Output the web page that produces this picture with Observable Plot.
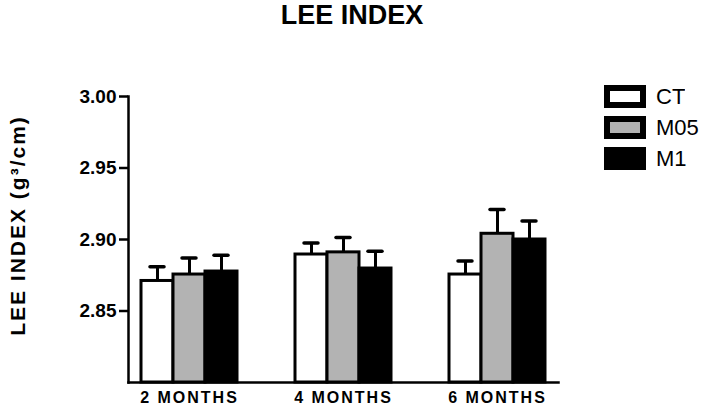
<!DOCTYPE html>
<html><head><meta charset="utf-8">
<script src="https://cdn.jsdelivr.net/npm/d3@7"></script>
<script src="https://cdn.jsdelivr.net/npm/@observablehq/plot@0.6"></script>
<style>
body{margin:0;background:#fff;font-family:"Liberation Sans",Arial,sans-serif;}
#wrap{position:relative;width:704px;height:419px;background:#fff;}
#title{position:absolute;left:0;top:0px;width:704px;text-align:center;font:bold 27px "Liberation Sans",Arial,sans-serif;color:#000;}
#chart{position:absolute;left:0;top:0;}
#legend{position:absolute;left:607px;top:81px;}
#legend .lg-swatch{height:31px !important;display:flex !important;align-items:center !important;margin:0 !important;padding:0 !important;}
#legend .lg-swatch svg{margin-right:13px !important;}
#legend svg rect{stroke:#000;stroke-width:6px;}
#legend, #legend *{font-size:22px !important;font-family:"Liberation Sans",Arial,sans-serif !important;color:#000 !important;}
#chart svg text{font-family:"Liberation Sans",Arial,sans-serif;}
#chart g[aria-label="fx-axis tick label"] text{letter-spacing:2px;}
#chart g[aria-label="text"] text{letter-spacing:2px;}
</style></head><body>
<div id="wrap"><div id="chart"></div><div id="title">LEE INDEX</div><div id="legend"></div></div>
<script>
const months = ["2 MONTHS", "4 MONTHS", "6 MONTHS"];
const groups = ["CT", "M05", "M1"];
const ctValues = [2.871, 2.8895, 2.8755];
const ctErrors = [0.010, 0.008, 0.0095];
const m05Values = [2.8755, 2.891, 2.904];
const m05Errors = [0.0115, 0.0104, 0.017];
const m1Values = [2.8776, 2.8797, 2.900];
const m1Errors = [0.0114, 0.012, 0.013];
const groupFills = ["#ffffff", "#b3b3b3", "#000000"];
const yTicks = [2.85, 2.90, 2.95, 3.00];
const yDomain = [2.80, 3.00];
const yLabel = "LEE INDEX (g³/cm)";

const series = {CT: [ctValues, ctErrors], M05: [m05Values, m05Errors], M1: [m1Values, m1Errors]};
const data = months.flatMap((m, i) => groups.map(g => ({month: m, group: g, value: series[g][0][i], err: series[g][1][i]})));

const chart = Plot.plot({
  width: 704, height: 419,
  marginTop: 96, marginBottom: 37, marginLeft: 128, marginRight: 146,
  style: {fontFamily: "Liberation Sans, Arial, sans-serif", background: "white", color: "black"},
  fx: {domain: months, paddingInner: 0.208, paddingOuter: 0, label: null},
  x: {domain: groups, paddingInner: 0, paddingOuter: 0.39, axis: null},
  y: {domain: yDomain, axis: null},
  color: {domain: groups, range: groupFills},
  marks: [
    Plot.ruleX(data, {fx: "month", x: "group", y1: "value", y2: d => d.value + d.err, stroke: "black", strokeWidth: 3}),
    Plot.tickY(data, {fx: "month", x: "group", y: d => d.value + d.err, stroke: "black", strokeWidth: 3.5, strokeLinecap: "round", insetLeft: 9, insetRight: 9}),
    Plot.barY(data, {fx: "month", x: "group", y1: yDomain[0], y2: "value", fill: "group", stroke: "black", strokeWidth: 3}),
    Plot.axisY({ticks: yTicks, tickFormat: ".2f", tickSize: 9, tickPadding: 3, strokeWidth: 2.5, fontSize: 19, fontWeight: "bold", label: null}),
    Plot.text([yLabel], {facet: "super", frameAnchor: "left", textAnchor: "middle", lineAnchor: "middle", rotate: -90, dx: -110, dy: -14, fontSize: 21, fontWeight: "bold", fill: "black"}),
    Plot.axisFx({anchor: "bottom", tickSize: 0, tickPadding: 9, label: null, fontSize: 16, fontWeight: "bold"}),
    Plot.frame({anchor: "left", facet: "super", stroke: "black", strokeWidth: 2.5}),
    Plot.frame({anchor: "bottom", facet: "super", stroke: "black", strokeWidth: 2.5})
  ]
});
document.getElementById("chart").appendChild(chart);

const legend = Plot.legend({color: {domain: groups, range: groupFills}, legend: "swatches", columns: 1, swatchWidth: 36, swatchHeight: 17, className: "lg", style: {fontSize: "22px", fontFamily: "Liberation Sans, Arial, sans-serif"}});
document.getElementById("legend").appendChild(legend);
</script>
</body></html>
